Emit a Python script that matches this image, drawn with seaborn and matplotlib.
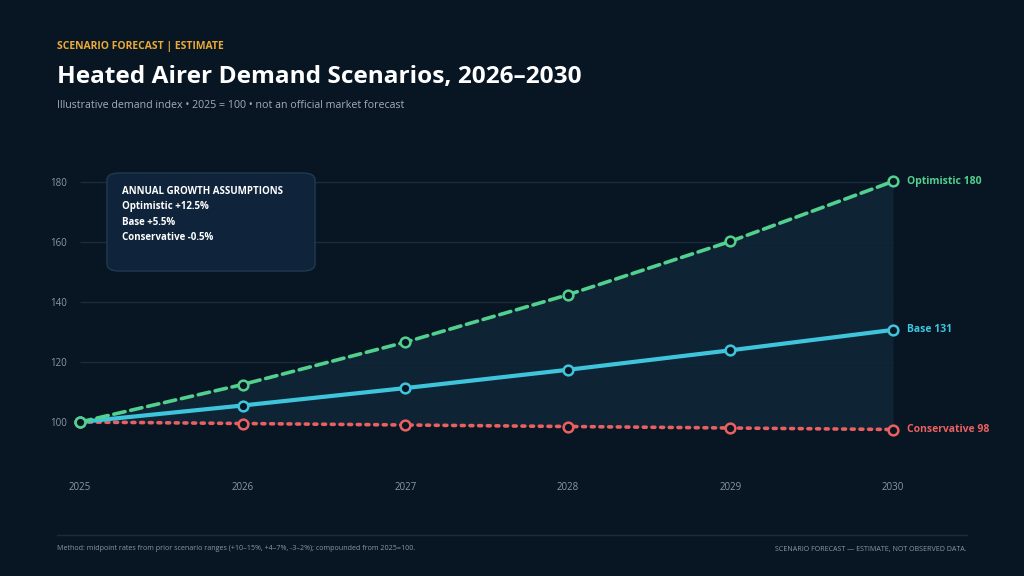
import matplotlib
matplotlib.use("Agg")
import matplotlib.pyplot as plt
from matplotlib.patches import FancyBboxPatch
import seaborn as sns
import pandas as pd

years = [2025, 2026, 2027, 2028, 2029, 2030]
optimistic = [100, 112.5, 126.6, 142.4, 160.2, 180.2]
base = [100, 105.5, 111.3, 117.4, 123.9, 130.7]
conservative = [100, 99.5, 99.0, 98.5, 98.0, 97.5]
y_ticks = [100, 120, 140, 160, 180]
end_labels = ["Optimistic 180", "Base 131", "Conservative 98"]
assumptions = ["Optimistic +12.5%", "Base +5.5%", "Conservative -0.5%"]

BG = "#081624"
GRID = "#1a2b3b"
C_OPT = "#52d08e"
C_BASE = "#3ec5dc"
C_CON = "#ea6060"
TICK = "#8a97a5"

sns.set_theme(style="dark")
plt.rcParams["font.family"] = ["Open Sans", "DejaVu Sans"]

W, H = 1024, 576
fig = plt.figure(figsize=(W / 100, H / 100), dpi=100, facecolor=BG)

left_px, right_px, top_px, bot_px = 80, 965, 152, 470
ax = fig.add_axes([left_px / W, 1 - bot_px / H, (right_px - left_px) / W, (bot_px - top_px) / H])
ax.set_facecolor(BG)
for s in ax.spines.values():
    s.set_visible(False)

x_end = 2030 + (right_px - 893) / ((893 - 80) / 5)
ax.set_xlim(2025, x_end)
ax.set_ylim(84, 190)

ax.hlines(y_ticks, 2025, 2030, color=GRID, lw=1, zorder=0)
ax.fill_between(years, conservative, optimistic, color="#0f2536", alpha=0.9, lw=0, zorder=1)

df = pd.DataFrame({"year": years * 3,
                   "value": optimistic + base + conservative,
                   "scenario": ["Optimistic"] * 6 + ["Base"] * 6 + ["Conservative"] * 6})

styles = {
    "Optimistic": dict(color=C_OPT, linestyle=(0, (3.2, 1.6)), lw=2.6),
    "Base": dict(color=C_BASE, linestyle="-", lw=3.0),
    "Conservative": dict(color=C_CON, linestyle=(0, (0.8, 1.6)), lw=2.6),
}
for name in ["Conservative", "Base", "Optimistic"]:
    d = df[df.scenario == name]
    st = styles[name]
    sns.lineplot(data=d, x="year", y="value", ax=ax, color=st["color"],
                 linestyle=st["linestyle"], lw=st["lw"], dash_capstyle="round",
                 marker="o", markersize=7, markerfacecolor=BG,
                 markeredgecolor=st["color"], markeredgewidth=1.8,
                 clip_on=False, zorder=3, legend=False)

for lab, vals, col in zip(end_labels, [optimistic, base, conservative], [C_OPT, C_BASE, C_CON]):
    ax.text(2030.085, vals[-1], lab, color=col, fontsize=7.5, fontweight="bold",
            va="center", ha="left", clip_on=False)

ax.set_yticks(y_ticks)
ax.set_yticklabels([str(v) for v in y_ticks])
ax.set_xticks(years)
ax.set_xticklabels([str(y) for y in years])
ax.tick_params(axis="y", colors=TICK, labelsize=7, length=0, pad=9.4)
ax.tick_params(axis="x", colors=TICK, labelsize=7, length=0, pad=8.5)
ax.set_xlabel("")
ax.set_ylabel("")
ax.grid(False)

box = FancyBboxPatch((107 / W, 1 - 271 / H), (315 - 107) / W, (271 - 173) / H,
                     boxstyle="round,pad=0,rounding_size=0.012",
                     transform=fig.transFigure, facecolor="#0f243a", edgecolor="#1f3a52",
                     lw=1, zorder=5)
fig.patches.append(box)
fig.text(122 / W, 1 - 192 / H, "ANNUAL GROWTH ASSUMPTIONS", color="white", fontsize=7,
         fontweight="bold", va="center", ha="left", zorder=6)
for i, t in enumerate(assumptions):
    fig.text(122 / W, 1 - (207 + 15.5 * i) / H, t, color="white", fontsize=7,
             fontweight="bold", va="center", ha="left", zorder=6)

fig.text(57 / W, 1 - 47 / H, "SCENARIO FORECAST | ESTIMATE", color="#eba936", fontsize=7.5,
         fontweight="bold", va="center", ha="left")
fig.text(57 / W, 1 - 77 / H, "Heated Airer Demand Scenarios, 2026–2030", color="white",
         fontsize=17.6, fontweight="bold", va="center", ha="left")
fig.text(57 / W, 1 - 106 / H, "Illustrative demand index • 2025 = 100 • not an official market forecast",
         color="#a3adb8", fontsize=7.7, va="center", ha="left")

fig.add_artist(plt.Line2D([57 / W, 967 / W], [1 - 535 / H, 1 - 535 / H], color=GRID, lw=1,
                          transform=fig.transFigure))
fig.text(57 / W, 1 - 549 / H,
         "Method: midpoint rates from prior scenario ranges (+10–15%, +4–7%, -3–2%); compounded from 2025=100.",
         color="#8a97a5", fontsize=5.1, va="center", ha="left")
fig.text(967 / W, 1 - 549 / H, "SCENARIO FORECAST — ESTIMATE, NOT OBSERVED DATA.",
         color="#8a97a5", fontsize=5.1, va="center", ha="right")

fig.savefig("out.png", dpi=100, facecolor=BG)
